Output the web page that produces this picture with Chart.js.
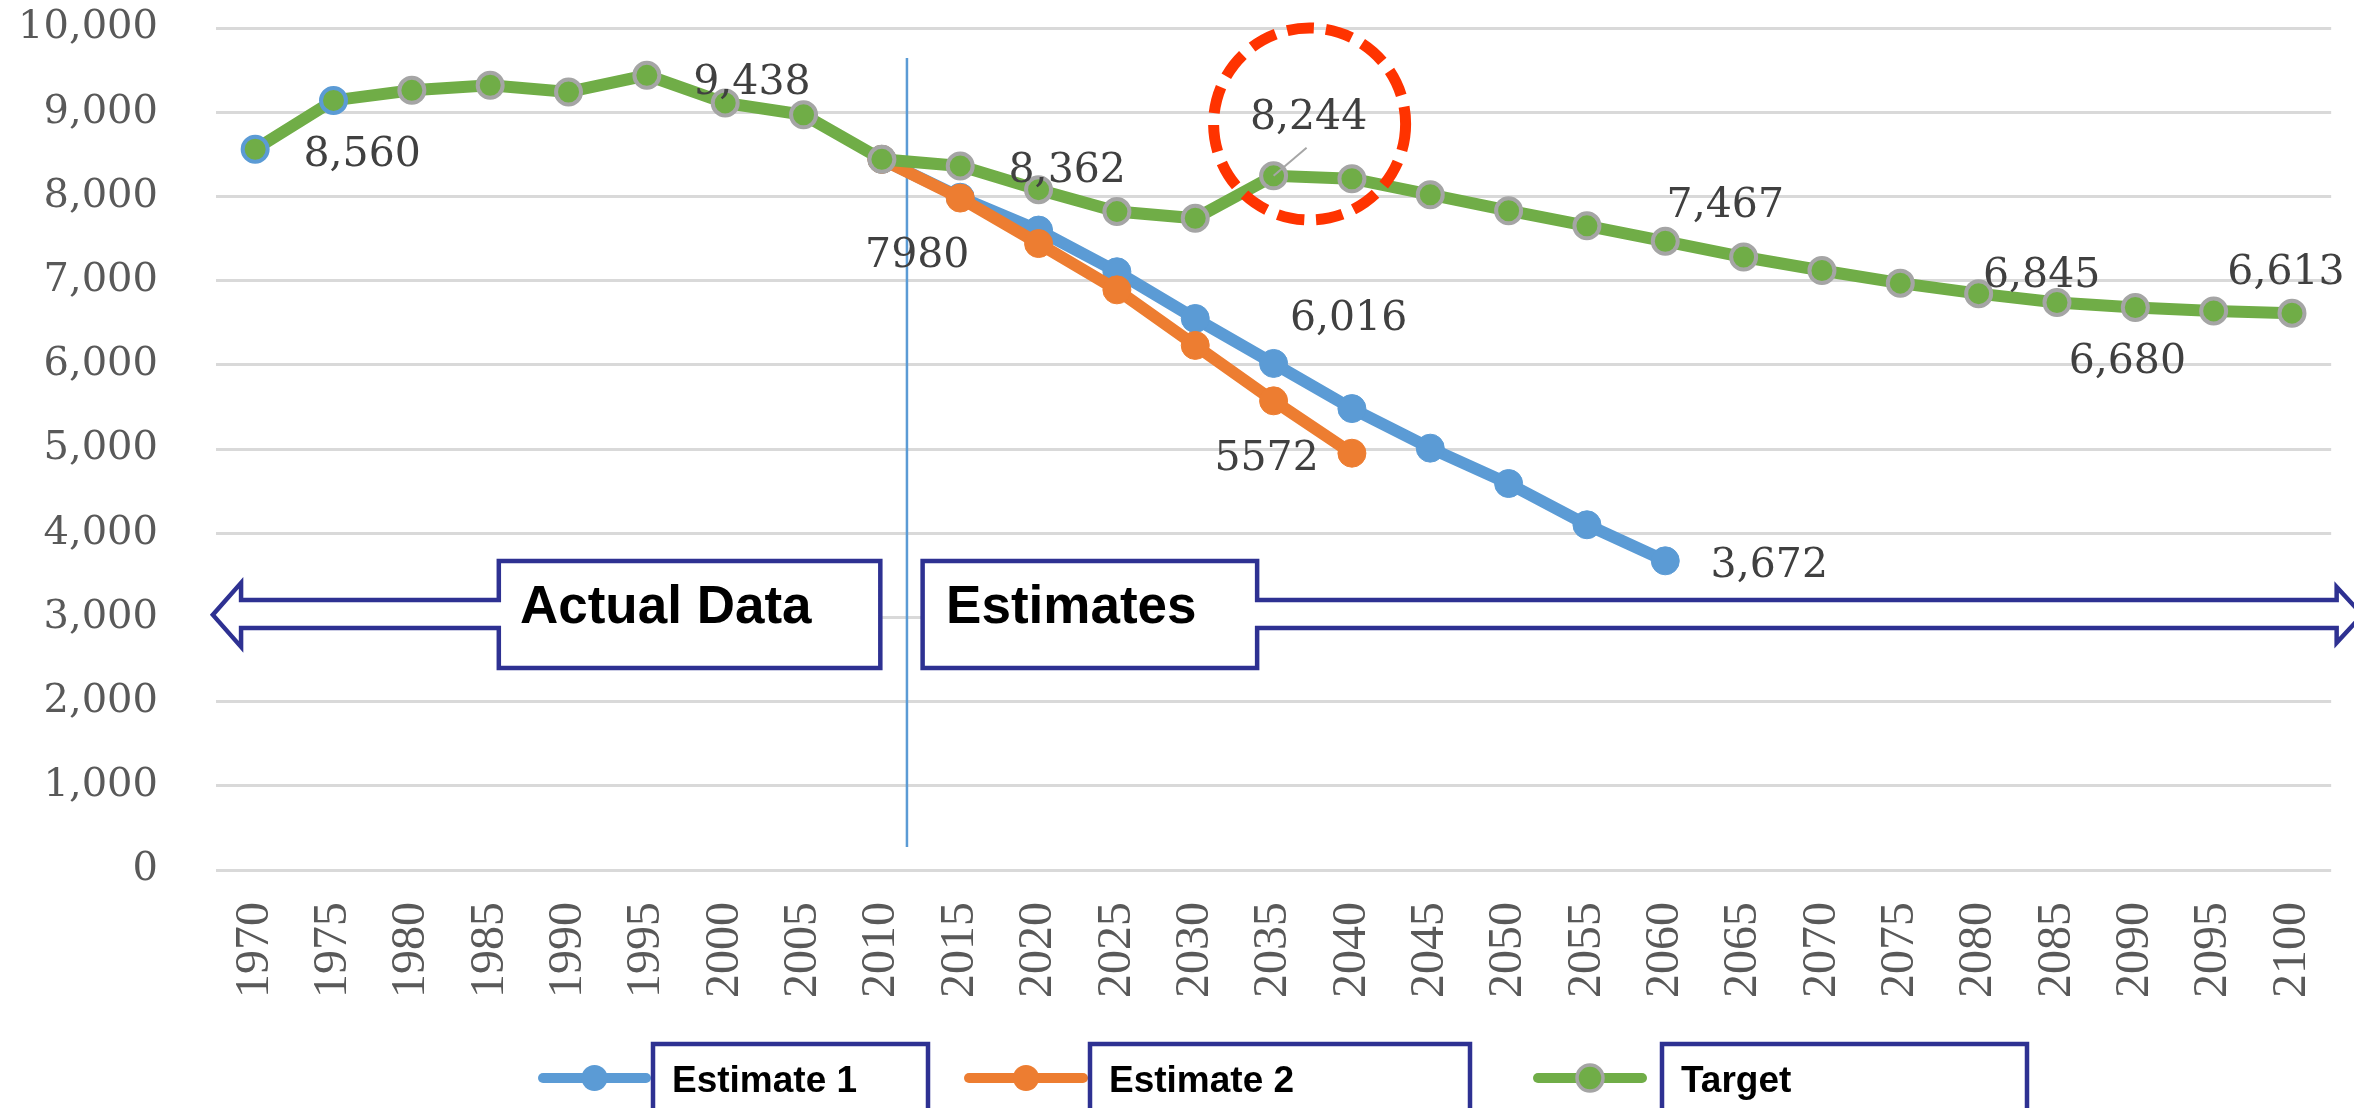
<!DOCTYPE html>
<html>
<head>
<meta charset="utf-8">
<script src="https://cdn.jsdelivr.net/npm/chart.js@4.4.1/dist/chart.umd.min.js"></script>
<style>
  html, body { margin: 0; padding: 0; background: #fff; }
  #wrap { width: 2354px; height: 1108px; }
</style>
</head>
<body>
<div id="wrap"><canvas id="popChart" width="2354" height="1108"></canvas></div>
<script>
// Years on the category axis
const years = ['1970', '1975', '1980', '1985', '1990', '1995', '2000', '2005', '2010',
    '2015', '2020', '2025', '2030', '2035', '2040', '2045', '2050', '2055', '2060',
    '2065', '2070', '2075', '2080', '2085', '2090', '2095', '2100'];

// Series values
const estimate1 = [null, null, null, null, null, null, null, null, 8440,
    7990, 7600, 7105, 6550, 6016, 5480, 5010, 4590, 4100, 3672,
    null, null, null, null, null, null, null, null];
const estimate2 = [null, null, null, null, null, null, null, null, 8440,
    7980, 7440, 6890, 6230, 5572, 4950, null, null, null, null,
    null, null, null, null, null, null, null, null];
const target = [8560, 9140, 9260, 9320, 9240, 9438, 9110, 8970, 8440,
    8362, 8080, 7820, 7740, 8244, 8210, 8020, 7830, 7650, 7467,
    7280, 7120, 6970, 6845, 6740, 6680, 6640, 6613];

const yTickValues = [0, 1000, 2000, 3000, 4000, 5000, 6000, 7000, 8000, 9000, 10000];
const seriesNames = ['Estimate 1', 'Estimate 2', 'Target'];

const BLUE = '#5b9bd5';
const ORANGE = '#ed7d31';
const GREEN = '#70ad47';
const GREY_RING = '#a5a5a5';
const NAVY = '#2e3192';
const CLEAR = 'rgba(0,0,0,0)';

// which points get a value label, and where the text sits relative to the point
const labelPlacement = [
    { ds: 2, i: 0, dx: 107, dy: 2 },
    { ds: 2, i: 5, dx: 105, dy: 4 },
    { ds: 2, i: 9, dx: 107, dy: 1 },
    { ds: 1, i: 9, dx: -43, dy: 54, plain: true },
    { ds: 2, i: 13, dx: 35, dy: -62, leader: true },
    { ds: 0, i: 13, dx: 75, dy: -48 },
    { ds: 1, i: 13, dx: -7, dy: 54, plain: true },
    { ds: 2, i: 18, dx: 60, dy: -39 },
    { ds: 0, i: 18, dx: 104, dy: 1 },
    { ds: 2, i: 22, dx: 63, dy: -22 },
    { ds: 2, i: 24, dx: -8, dy: 50 },
    { ds: 2, i: 26, dx: -6, dy: -44 }
];

// hand drawn legend (line + boxed name)
const legendLayout = [
    { ds: 0, lineFrom: 538, lineTo: 651, boxFrom: 653, boxTo: 928 },
    { ds: 1, lineFrom: 964, lineTo: 1088, boxFrom: 1090, boxTo: 1470 },
    { ds: 2, lineFrom: 1533, lineTo: 1647, boxFrom: 1662, boxTo: 2027 }
];

const targetRing = target.map((v, i) => i < 2 ? BLUE : GREY_RING);

function callout(ctx, pts) {
    ctx.beginPath();
    ctx.moveTo(pts[0][0], pts[0][1]);
    for (let k = 1; k < pts.length; k++) ctx.lineTo(pts[k][0], pts[k][1]);
    ctx.closePath();
    ctx.fillStyle = '#ffffff';
    ctx.fill();
    ctx.lineWidth = 4.5;
    ctx.strokeStyle = NAVY;
    ctx.lineJoin = 'miter';
    ctx.stroke();
}

const decorPlugin = {
    id: 'decor',
    beforeDatasetsDraw(chart) {
        const ctx = chart.ctx;
        const xs = chart.scales.x, ys = chart.scales.y;
        const step = xs.getPixelForValue(1) - xs.getPixelForValue(0);
        const xAt = f => xs.getPixelForValue(0) + f * step;
        const yAt = v => ys.getPixelForValue(v);

        // divider between actual data and estimates
        ctx.save();
        ctx.strokeStyle = BLUE;
        ctx.lineWidth = 2.5;
        ctx.beginPath();
        ctx.moveTo(xAt(8.32), yAt(9644));
        ctx.lineTo(xAt(8.32), yAt(273));
        ctx.stroke();

        // "Actual Data" callout pointing left
        const bTop = yAt(3670), bBot = yAt(2399);
        const sTop = yAt(3207), sBot = yAt(2874), mid = yAt(3030);
        callout(ctx, [
            [xAt(3.11), bTop], [xAt(7.98), bTop], [xAt(7.98), bBot], [xAt(3.11), bBot],
            [xAt(3.11), sBot], [xAt(-0.18), sBot], [xAt(-0.18), yAt(2650)],
            [xAt(-0.54), mid], [xAt(-0.18), yAt(3410)], [xAt(-0.18), sTop], [xAt(3.11), sTop]
        ]);
        // "Estimates" callout pointing right
        callout(ctx, [
            [xAt(8.52), bTop], [xAt(12.79), bTop], [xAt(12.79), sTop], [xAt(26.57), sTop],
            [xAt(26.57), yAt(3360)], [xAt(26.9), mid], [xAt(26.57), yAt(2700)],
            [xAt(26.57), sBot], [xAt(12.79), sBot], [xAt(12.79), bBot], [xAt(8.52), bBot]
        ]);

        ctx.fillStyle = '#000000';
        ctx.font = 'bold 53px "Liberation Sans", Arial, sans-serif';
        ctx.textAlign = 'left';
        ctx.textBaseline = 'alphabetic';
        ctx.fillText('Actual Data', xAt(3.38), yAt(3030) + 8);
        ctx.fillText('Estimates', xAt(8.82), yAt(3030) + 8);
        ctx.restore();
    },
    afterDatasetsDraw(chart) {
        const ctx = chart.ctx;
        const xs = chart.scales.x, ys = chart.scales.y;
        const step = xs.getPixelForValue(1) - xs.getPixelForValue(0);

        ctx.save();
        // value labels
        ctx.font = '41px "DejaVu Serif", serif';
        ctx.fillStyle = '#404040';
        ctx.textAlign = 'center';
        ctx.textBaseline = 'alphabetic';
        labelPlacement.forEach(p => {
            const pt = chart.getDatasetMeta(p.ds).data[p.i];
            const v = chart.data.datasets[p.ds].data[p.i];
            const txt = p.plain ? String(v) : v.toLocaleString('en-US');
            if (p.leader) {
                ctx.strokeStyle = '#a6a6a6';
                ctx.lineWidth = 2;
                ctx.beginPath();
                ctx.moveTo(pt.x + 33, pt.y - 28);
                ctx.lineTo(pt.x, pt.y);
                ctx.stroke();
            }
            ctx.fillText(txt, pt.x + p.dx, pt.y + p.dy + 15);
        });

        // red dashed ring round the 2035 target
        ctx.strokeStyle = '#ff3300';
        ctx.lineWidth = 11;
        ctx.setLineDash([27, 12]);
        ctx.beginPath();
        ctx.arc(xs.getPixelForValue(0) + 13.46 * step, ys.getPixelForValue(8860), 96, 0, Math.PI * 2);
        ctx.stroke();
        ctx.setLineDash([]);

        // legend
        legendLayout.forEach(item => {
            const ds = chart.data.datasets[item.ds];
            const cy = 1078;
            ctx.strokeStyle = ds.borderColor;
            ctx.lineWidth = 10;
            ctx.lineCap = 'round';
            ctx.beginPath();
            ctx.moveTo(item.lineFrom + 5, cy);
            ctx.lineTo(item.lineTo - 5, cy);
            ctx.stroke();
            ctx.lineCap = 'butt';
            ctx.beginPath();
            ctx.arc((item.lineFrom + item.lineTo) / 2, cy, 13, 0, Math.PI * 2);
            ctx.fillStyle = ds.borderColor;
            ctx.fill();
            if (item.ds === 2) {
                ctx.lineWidth = 3.5;
                ctx.strokeStyle = GREY_RING;
                ctx.stroke();
            }
            ctx.lineWidth = 4.5;
            ctx.strokeStyle = NAVY;
            ctx.fillStyle = '#ffffff';
            ctx.beginPath();
            ctx.rect(item.boxFrom, 1044, item.boxTo - item.boxFrom, 80);
            ctx.fill();
            ctx.stroke();
            ctx.fillStyle = '#000000';
            ctx.font = 'bold 37px "Liberation Sans", Arial, sans-serif';
            ctx.textAlign = 'left';
            ctx.fillText(seriesNames[item.ds], item.boxFrom + 19, 1092);
        });
        ctx.restore();
    }
};

document.addEventListener('DOMContentLoaded', function() {
    const ctx = document.getElementById('popChart').getContext('2d');
    new Chart(ctx, {
        type: 'line',
        data: {
            labels: years,
            datasets: [
                {
                    label: seriesNames[0],
                    data: estimate1,
                    borderColor: BLUE,
                    backgroundColor: BLUE,
                    borderWidth: 12,
                    pointRadius: 14,
                    pointBackgroundColor: BLUE,
                    pointBorderColor: BLUE,
                    pointBorderWidth: 1,
                    tension: 0,
                    order: 2
                },
                {
                    label: seriesNames[1],
                    data: estimate2,
                    borderColor: ORANGE,
                    backgroundColor: ORANGE,
                    borderWidth: 12,
                    pointRadius: 14,
                    pointBackgroundColor: ORANGE,
                    pointBorderColor: ORANGE,
                    pointBorderWidth: 1,
                    tension: 0,
                    order: 1
                },
                {
                    label: seriesNames[2],
                    data: target,
                    borderColor: GREEN,
                    backgroundColor: GREEN,
                    borderWidth: 12,
                    pointRadius: 12.5,
                    pointBackgroundColor: GREEN,
                    pointBorderColor: targetRing,
                    pointBorderWidth: 4,
                    tension: 0,
                    order: 0
                }
            ]
        },
        options: {
            responsive: false,
            animation: false,
            devicePixelRatio: 1,
            layout: { padding: { top: 28, right: 22, left: 0, bottom: 0 } },
            plugins: {
                legend: { display: false },
                tooltip: { enabled: false }
            },
            scales: {
                x: {
                    offset: true,
                    grid: {
                        display: true, drawOnChartArea: false, color: CLEAR,
                        drawTicks: true, tickLength: 28, tickColor: CLEAR
                    },
                    border: { display: false },
                    ticks: {
                        autoSkip: false,
                        minRotation: 90,
                        maxRotation: 90,
                        padding: 4,
                        color: '#595959',
                        font: { family: '"Liberation Serif", serif', size: 48 }
                    },
                    afterFit: s => { s.height = 238; }
                },
                y: {
                    min: 0,
                    max: 10000,
                    grid: {
                        color: '#d9d9d9', lineWidth: 3,
                        drawTicks: true, tickLength: 54, tickColor: CLEAR
                    },
                    border: { display: false },
                    afterBuildTicks: s => { s.ticks = yTickValues.map(v => ({ value: v })); },
                    ticks: {
                        padding: 4,
                        color: '#595959',
                        font: { family: '"DejaVu Serif", serif', size: 40 },
                        callback: v => v.toLocaleString('en-US')
                    },
                    afterFit: s => { s.width = 216; }
                }
            }
        },
        plugins: [decorPlugin]
    });
});
</script>
</body>
</html>
